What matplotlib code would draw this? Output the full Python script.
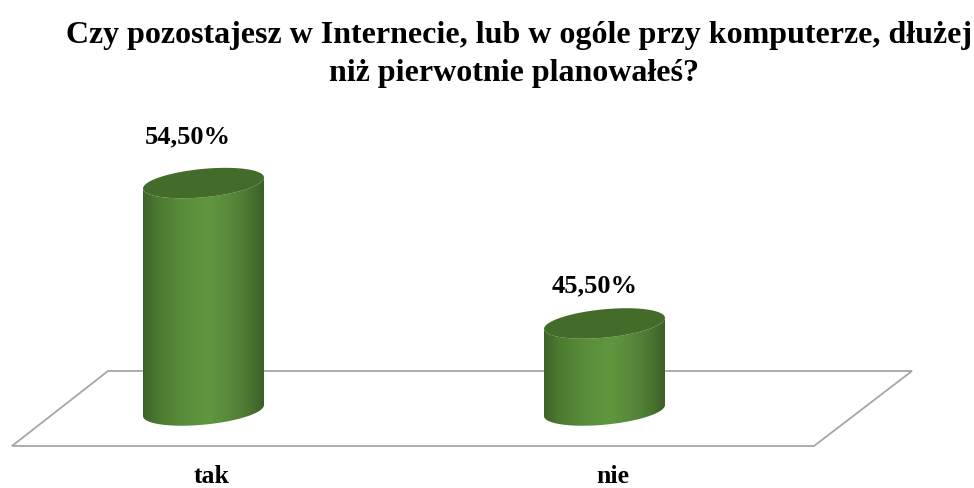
#!/usr/bin/env python3
"""Cylinder bar chart: time at the computer vs. plan."""
import matplotlib
matplotlib.use("Agg")
import matplotlib.pyplot as plt
import numpy as np
from matplotlib.colors import LinearSegmentedColormap
from matplotlib.patches import PathPatch, Polygon
from matplotlib.path import Path

plt.rcParams["font.family"] = ["Liberation Serif", "DejaVu Serif"]

categories = ["tak", "nie"]
values = [54.5, 45.5]
value_labels = ["54,50%", "45,50%"]
title_lines = ["Czy pozostajesz w Internecie, lub w ogóle przy komputerze, dłużej",
               "niż pierwotnie planowałeś?"]

# layout, in reference pixels
CENTERS = [203.5, 604.5]
HALF_W = 60.5
BASE_Y = 411.5
PX_PER_UNIT = 15.6
AXIS_MIN = 39.92
TILT = 5.5
MINOR = 14.2

body_cmap = LinearSegmentedColormap.from_list(
    "body",
    [(0.0, "#3d6227"), (0.12, "#4b7a30"), (0.35, "#5a8e3b"), (0.55, "#5f973e"),
     (0.72, "#57893a"), (0.88, "#4a7630"), (1.0, "#3b5e25")],
)


def value_to_y(v):
    return BASE_Y - (v - AXIS_MIN) * PX_PER_UNIT


def ellipse_xy(cx, cy, t):
    return cx + HALF_W * np.cos(t), cy - TILT * np.cos(t) - MINOR * np.sin(t)


fig = plt.figure(figsize=(9.74, 4.89), dpi=100)
ax = fig.add_axes([0, 0, 1, 1])
ax.axis("off")

ax.add_patch(Polygon([(108, 372), (912, 372), (814, 447), (12, 447)], closed=True,
                     facecolor="white", edgecolor="#a6a6a6", linewidth=1.3, zorder=1))

gradient = np.linspace(0, 1, 256).reshape(1, -1)
for cx, v in zip(CENTERS, values):
    top_y = value_to_y(v)
    # front of the bottom rim, left to right, then back across the top rim
    t_low = np.linspace(np.pi, 2 * np.pi, 80)
    t_up = np.linspace(2 * np.pi, np.pi, 80)
    bx, by = ellipse_xy(cx, BASE_Y, t_low)
    ux, uy = ellipse_xy(cx, top_y, t_up)
    verts = np.column_stack([np.r_[bx, ux], np.r_[by, uy]])
    body = Path(np.vstack([verts, verts[0]]), closed=True)
    im = ax.imshow(gradient, cmap=body_cmap, aspect="auto", zorder=2,
                   extent=(cx - HALF_W, cx + HALF_W, BASE_Y + 20, top_y - 20))
    im.set_clip_path(PathPatch(body, transform=ax.transData))
    t = np.linspace(0, 2 * np.pi, 160)
    ex, ey = ellipse_xy(cx, top_y, t)
    ax.fill(ex, ey, color="#436b2a", linewidth=0, zorder=3)

ax.set_xlim(0, 974)
ax.set_ylim(489, 0)

for x, y, line in zip([519, 514], [35, 74], title_lines):
    ax.text(x, y, line, ha="center", va="center", fontsize=23, fontweight="bold", color="black")
for x, y, s in zip([188, 595], [137, 286], value_labels):
    ax.text(x, y, s, ha="center", va="center", fontsize=19, fontweight="bold", color="black")
for x, s in zip([212, 613], categories):
    ax.text(x, 483, s, ha="center", va="baseline", fontsize=18.5, fontweight="bold", color="black")

fig.savefig("out.png", dpi=100)
